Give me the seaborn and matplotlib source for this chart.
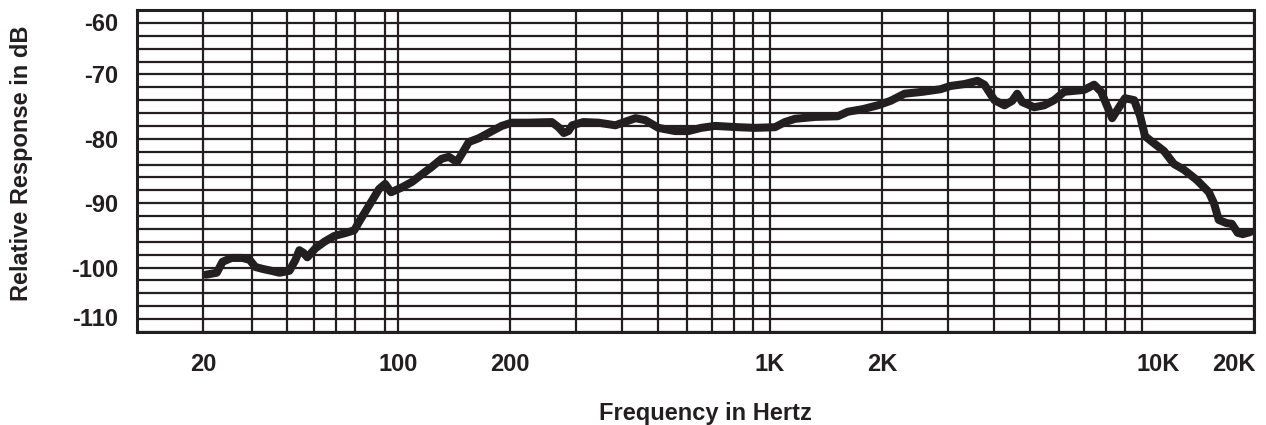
import numpy as np
import pandas as pd
import matplotlib
matplotlib.use('Agg')
import matplotlib.pyplot as plt
import matplotlib.transforms as mtransforms
import seaborn as sns

# frequency response
freq_hz = [20.5, 22.4, 23.5, 25.3, 27.7, 29.4, 30.8, 32.7, 35.2, 37.6,
           40.8, 42.9, 44.3, 45.8, 47.3, 50.6, 54.4, 59.0, 65.2, 69.7,
           73.2, 79.4, 85.5, 89.9, 94.4, 102, 109, 116, 123, 131,
           137, 144, 149, 155, 165, 175, 190, 202, 224, 259,
           270, 279, 287, 294, 315, 346, 384, 406, 435, 462,
           501, 556, 603, 653, 712, 821, 912, 1031, 1097, 1167,
           1320, 1521, 1618, 1775, 1949, 2110, 2300, 2571, 2873, 3055,
           3331, 3611, 3770, 4011, 4267, 4479, 4619, 4765, 5130, 5457,
           5804, 6174, 6993, 7437, 7766, 8055, 8313, 8676, 8999, 9524,
           9886, 10190, 10770, 11460, 12180, 12960, 14040, 15130, 15610, 16080,
           16890, 17430, 18080, 18660, 19500]
response_db = [-101.1, -100.8, -99.1, -98.5, -98.5, -98.8, -99.9, -100.2, -100.5, -100.8,
               -100.5, -98.8, -97.3, -97.7, -98.4, -97.0, -96.0, -95.1, -94.6, -94.2,
               -92.6, -90.1, -87.8, -87.0, -88.3, -87.6, -86.7, -85.5, -84.4, -83.1,
               -82.8, -83.6, -82.2, -80.5, -79.9, -79.1, -78.0, -77.5, -77.5, -77.4,
               -78.2, -79.1, -78.8, -77.9, -77.4, -77.5, -77.9, -77.4, -76.8, -77.1,
               -78.3, -78.8, -78.8, -78.3, -78.0, -78.2, -78.3, -78.2, -77.4, -76.9,
               -76.6, -76.5, -75.8, -75.4, -74.8, -74.1, -73.0, -72.7, -72.3, -71.8,
               -71.5, -71.0, -71.6, -74.0, -74.8, -74.1, -73.0, -74.3, -75.1, -74.8,
               -74.0, -72.7, -72.4, -71.6, -72.7, -74.9, -76.8, -75.1, -73.7, -74.0,
               -76.5, -79.6, -80.7, -81.9, -83.9, -84.8, -86.4, -88.3, -90.0, -92.6,
               -93.1, -93.2, -94.6, -94.8, -94.5]

x_ticks = [20, 100, 200, 1000, 2000, 10000, 20000]
x_tick_labels = ['20', '100', '200', '1K', '2K', '10K', '20K']
x_grid = [30, 40, 50, 60, 70, 90, 300, 400, 500, 600, 700, 800, 900,
          3000, 4000, 5000, 6000, 7000, 8000, 9000]
y_ticks = [-60, -70, -80, -90, -100, -110]
y_tick_labels = ['-60', '-70', '-80', '-90', '-100', '-110']

INK = '#231f20'

sns.set_style('white')
plt.rcParams['font.family'] = ['Liberation Sans', 'DejaVu Sans']
plt.rcParams['font.weight'] = 'bold'


# the chart squeezes the decade below 100 Hz
def fwd(f):
    lf = np.log10(np.clip(f, 1e-9, None))
    return np.where(lf < 2, 2 + 0.75 * (lf - 2), lf)


def inv(u):
    u = np.asarray(u, dtype=float)
    return np.where(u < 2, 10 ** (2 + (u - 2) / 0.75), 10 ** u)


df = pd.DataFrame({'freq': freq_hz, 'db': response_db})

fig = plt.figure(figsize=(12.66, 4.25), dpi=100)
ax = fig.add_axes([137 / 1266, 1 - 332 / 425, 1117 / 1266, 322 / 425])

ax.set_xscale('function', functions=(fwd, inv))
ax.set_xlim(11.6, 20000)
ax.set_ylim(-110, -60)

ax.set_xticks(x_ticks)
ax.set_xticklabels(x_tick_labels)
ax.set_xticks(x_grid, minor=True)
ax.set_xticklabels([''] * len(x_grid), minor=True)
ax.set_yticks(y_ticks)
ax.set_yticklabels(y_tick_labels)
ax.set_yticks(np.arange(-108, -60, 2), minor=True)

ax.grid(True, which='both', color=INK, linewidth=1.6)
ax.tick_params(which='both', length=0)
ax.tick_params(axis='x', pad=15, labelsize=17, colors=INK)
ax.tick_params(axis='y', pad=13.5, labelsize=17, colors=INK)
for s in ax.spines.values():
    s.set_color(INK)
    s.set_linewidth(2.2)

sns.lineplot(data=df, x='freq', y='db', ax=ax, color=INK, linewidth=5.8,
             solid_capstyle='round', solid_joinstyle='round')

# nudge the end labels inward like the printed chart
def nudge(label, dx, dy):
    off = mtransforms.ScaledTranslation(dx / 100, dy / 100, fig.dpi_scale_trans)
    label.set_transform(label.get_transform() + off)

ylabs = ax.get_yticklabels()
nudge(ylabs[0], 0, -12)
nudge(ylabs[-1], 0, 15)
xlabs = ax.get_xticklabels()
nudge(xlabs[5], 16, 0)
nudge(xlabs[6], -20, 0)

ax.set_xlabel('Frequency in Hertz', fontsize=17, fontweight='bold', color=INK)
ax.set_ylabel('Relative Response in dB', fontsize=17, fontweight='bold', color=INK)
ax.xaxis.set_label_coords(0.5085, -0.217)
ax.yaxis.set_label_coords(-0.0931, 0.525)

fig.savefig('out.png', dpi=100)
